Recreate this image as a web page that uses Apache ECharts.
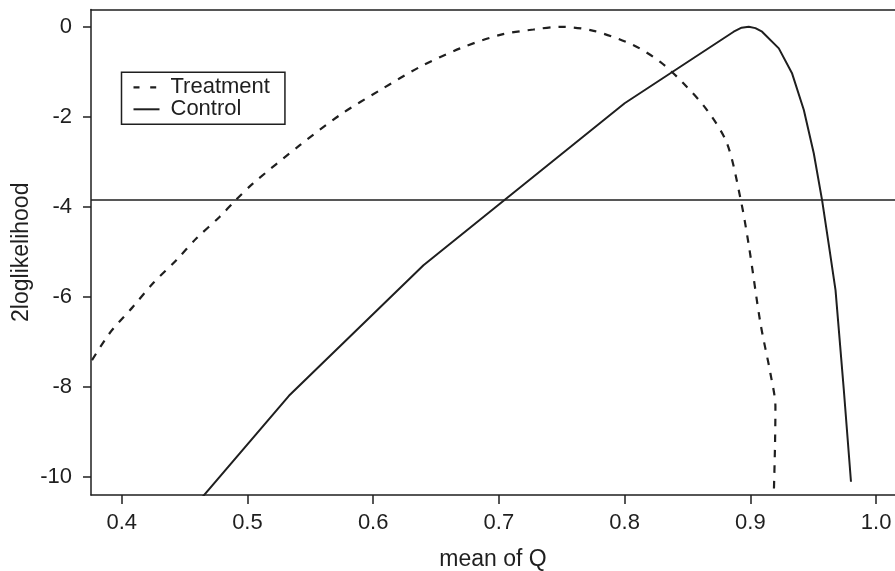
<!DOCTYPE html>
<html><head><meta charset="utf-8">
<script src="https://cdn.jsdelivr.net/npm/echarts@6/dist/echarts.min.js"></script>
<style>html,body{margin:0;padding:0;background:#fff}#c{width:895px;height:571px}</style>
</head><body><div id="c"></div>
<script>
// ---- data ----
const seriesNames = ['Treatment', 'Control'];
const treatX = [0.370, 0.3904, 0.409, 0.4249, 0.4436, 0.4595, 0.478, 0.490, 0.5045, 0.5417, 0.5736, 0.6054, 0.6373, 0.6691, 0.701, 0.7275, 0.7487, 0.7753, 0.8071, 0.8283, 0.8469, 0.8655, 0.8814, 0.892, 0.8987, 0.908, 0.9159, 0.9199, 0.9195, 0.9185];
const treatY = [-7.70, -6.81, -6.22, -5.70, -5.18, -4.70, -4.22, -3.87, -3.48, -2.63, -1.96, -1.41, -0.89, -0.48, -0.18, -0.06, 0.0, -0.09, -0.41, -0.78, -1.26, -1.85, -2.59, -3.80, -4.85, -6.59, -7.70, -8.44, -9.40, -10.50];
const ctrlX = [0.455, 0.533, 0.640, 0.800, 0.8867, 0.893, 0.8987, 0.904, 0.9093, 0.9226, 0.9332, 0.9425, 0.9504, 0.9571, 0.9624, 0.9677, 0.9743, 0.980];
const ctrlY = [-10.75, -8.20, -5.30, -1.70, -0.11, -0.02, 0.0, -0.03, -0.11, -0.48, -1.04, -1.85, -2.81, -3.87, -4.85, -5.85, -8.07, -10.11];
const threshold = -3.84;
const xTicks = [0.4, 0.5, 0.6, 0.7, 0.8, 0.9, 1.0];
const yTicks = [-10, -8, -6, -4, -2, 0];
const xTitle = 'mean of Q';
const yTitle = '2loglikelihood';

// ---- chart ----
const FONT = '"Liberation Sans", Arial, Helvetica, sans-serif';
const INK = '#1f1f1f';
const X_MIN = 0.3756, X_MAX = 1.015, Y_MIN = -10.404, Y_MAX = 0.384;
const zip = (xs, ys) => xs.map((x, i) => [x, ys[i]]);
const chart = echarts.init(document.getElementById('c'), null, {renderer: 'canvas'});
const axisLineStyle = {color: INK, width: 1.5};
const dashIcon = 'path://M0,0h6v2.2h-6z M16.7,0h6v2.2h-6z M25.99,0h0.01v2.2h-0.01z';
const solidIcon = 'path://M0,0h26v2h-26z';
chart.setOption({
  animation: false,
  backgroundColor: '#fff',
  grid: {left: 91, right: 0, top: 9.5, bottom: 76, containLabel: false, outerBoundsMode: 'none'},
  legend: {
    orient: 'vertical', left: 121.5, top: 72.3,
    padding: [4, 15, 4, 12], itemGap: 0, itemWidth: 26, itemHeight: 2.2,
    borderColor: INK, borderWidth: 1.5, borderRadius: 0,
    itemStyle: {color: INK, borderWidth: 0},
    lineStyle: {width: 0},
    textStyle: {fontSize: 22, lineHeight: 21, color: INK, fontFamily: FONT, padding: [0, 0, 0, 6]},
    data: [
      {name: seriesNames[0], icon: dashIcon},
      {name: seriesNames[1], icon: solidIcon}
    ]
  },
  xAxis: [{
    type: 'value', min: X_MIN, max: X_MAX, position: 'bottom',
    axisLine: {show: true, onZero: false, lineStyle: axisLineStyle},
    axisTick: {show: true, customValues: xTicks, length: 9, lineStyle: axisLineStyle},
    axisLabel: {customValues: xTicks, formatter: v => v.toFixed(1), margin: 17, fontSize: 22, color: INK, fontFamily: FONT},
    splitLine: {show: false},
    name: xTitle, nameLocation: 'middle', nameGap: 53,
    nameTextStyle: {fontSize: 23, color: INK, fontFamily: FONT}
  }, {
    type: 'value', min: X_MIN, max: X_MAX, position: 'top',
    axisLine: {show: true, onZero: false, lineStyle: axisLineStyle},
    axisTick: {show: false}, axisLabel: {show: false}, splitLine: {show: false}
  }],
  yAxis: {
    type: 'value', min: Y_MIN, max: Y_MAX,
    axisLine: {show: true, onZero: false, lineStyle: axisLineStyle},
    axisTick: {show: true, customValues: yTicks, length: 8, lineStyle: axisLineStyle},
    axisLabel: {customValues: yTicks, margin: 19, fontSize: 22, color: INK, fontFamily: FONT, padding: [6, 0, 0, 0]},
    splitLine: {show: false},
    name: yTitle, nameLocation: 'middle', nameGap: 58, nameMoveOverlap: false,
    nameTextStyle: {fontSize: 23, color: INK, fontFamily: FONT}
  },
  series: [{
    name: seriesNames[0], type: 'line', data: zip(treatX, treatY),
    symbol: 'none', showSymbol: false, smooth: 0.3, clip: true,
    lineStyle: {color: INK, width: 2.2, type: [7.5, 8]}, itemStyle: {color: INK},
    emphasis: {disabled: true}
  }, {
    name: seriesNames[1], type: 'line', data: zip(ctrlX, ctrlY),
    symbol: 'none', showSymbol: false, smooth: false, clip: true,
    lineStyle: {color: INK, width: 2, type: 'solid'}, itemStyle: {color: INK},
    emphasis: {disabled: true},
    markLine: {
      silent: true, symbol: ['none', 'none'], label: {show: false},
      lineStyle: {color: INK, width: 1.5, type: 'solid'},
      data: [{yAxis: threshold}]
    }
  }]
});
</script>
</body></html>
